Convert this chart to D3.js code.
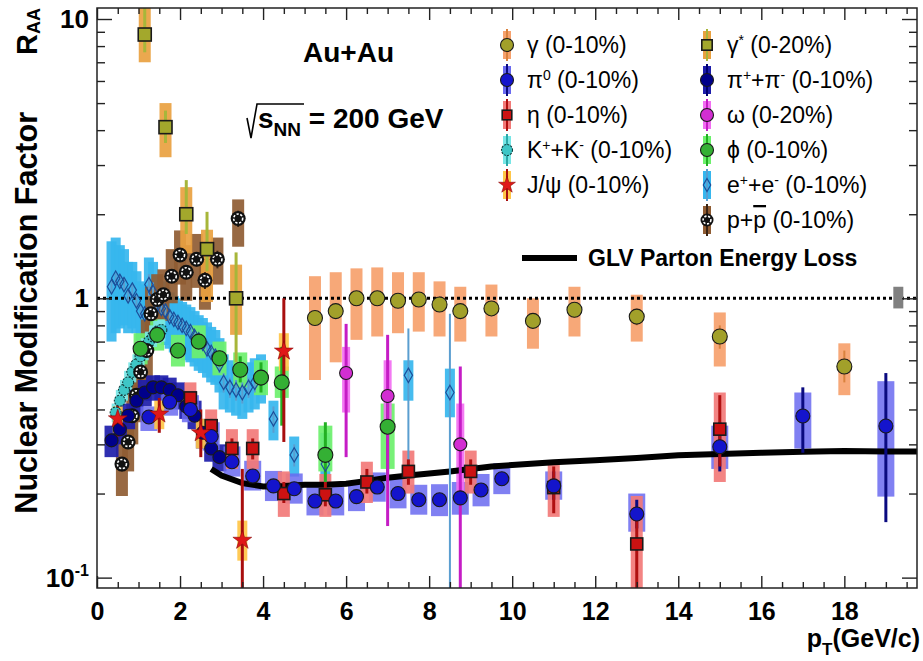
<!DOCTYPE html>
<html>
<head>
<meta charset="utf-8">
<script src="https://cdn.jsdelivr.net/npm/d3@7"></script>
<style>
  body { margin: 0; background: #fff; }
  svg { display: block; }
  text { font-family: "Liberation Sans", Arial, Helvetica, sans-serif; fill: #000; }
</style>
</head>
<body>
<svg id="chart" width="923" height="661"></svg>
<script>
// Each row: [pT, R_AA, systLow, systHigh, statLow, statHigh]
const photonDirect = [
  [5.25, 0.85, 0.51, 1.20, 0.80, 0.90],
  [5.75, 0.90, 0.59, 1.24, 0.86, 0.95],
  [6.25, 1.00, 0.71, 1.28, 0.95, 1.05],
  [6.75, 1.00, 0.73, 1.29, 0.95, 1.05],
  [7.25, 0.98, 0.75, 1.24, 0.93, 1.03],
  [7.75, 0.99, 0.76, 1.24, 0.94, 1.04],
  [8.25, 0.95, 0.73, 1.15, 0.90, 1.00],
  [8.75, 0.90, 0.70, 1.10, 0.85, 0.96],
  [9.5, 0.92, 0.73, 1.12, 0.87, 0.97],
  [10.5, 0.83, 0.66, 1.00, 0.78, 0.88],
  [11.5, 0.91, 0.73, 1.10, 0.85, 0.97],
  [13.0, 0.86, 0.70, 1.03, 0.80, 0.92],
  [15.0, 0.73, 0.57, 0.89, 0.66, 0.80],
  [18.0, 0.57, 0.45, 0.69, 0.50, 0.65]
];
const photonVirtual = [
  [1.15, 8.8, 7.0, 12.0, 7.6, 11.5],
  [1.65, 4.1, 3.2, 5.0, 3.6, 4.7],
  [2.15, 2.0, 1.45, 2.5, 1.7, 2.65],
  [2.65, 1.5, 0.97, 1.76, 1.25, 2.04],
  [3.35, 1.0, 0.74, 1.32, 0.59, 1.46]
];
const pionNeutral = [
  [1.25, 0.376, 0.335, 0.41, 0.36, 0.39],
  [1.75, 0.425, 0.38, 0.47, 0.41, 0.44],
  [2.25, 0.40, 0.36, 0.45, 0.385, 0.415],
  [2.75, 0.32, 0.285, 0.36, 0.305, 0.335],
  [3.25, 0.26, 0.23, 0.295, 0.25, 0.27],
  [3.75, 0.231, 0.205, 0.262, 0.222, 0.24],
  [4.25, 0.213, 0.188, 0.241, 0.205, 0.221],
  [4.75, 0.208, 0.184, 0.236, 0.20, 0.216],
  [5.25, 0.188, 0.167, 0.211, 0.181, 0.195],
  [5.75, 0.188, 0.167, 0.211, 0.181, 0.195],
  [6.25, 0.195, 0.173, 0.22, 0.188, 0.202],
  [6.75, 0.211, 0.187, 0.238, 0.203, 0.219],
  [7.25, 0.200, 0.177, 0.226, 0.192, 0.208],
  [7.75, 0.190, 0.168, 0.215, 0.182, 0.198],
  [8.25, 0.190, 0.166, 0.216, 0.181, 0.199],
  [8.75, 0.193, 0.168, 0.22, 0.183, 0.203],
  [9.25, 0.206, 0.18, 0.235, 0.195, 0.217],
  [9.75, 0.226, 0.199, 0.257, 0.214, 0.238],
  [11.0, 0.213, 0.19, 0.24, 0.19, 0.24],
  [13.0, 0.169, 0.146, 0.20, 0.15, 0.19],
  [15.0, 0.294, 0.245, 0.35, 0.24, 0.36],
  [17.0, 0.379, 0.29, 0.46, 0.28, 0.48],
  [19.0, 0.349, 0.195, 0.505, 0.158, 0.54]
];
const pionCharged = [
  [0.35, 0.31, 0.27, 0.35, 0.30, 0.32],
  [0.55, 0.34, 0.30, 0.38, 0.33, 0.35],
  [0.75, 0.38, 0.34, 0.42, 0.37, 0.39],
  [0.95, 0.43, 0.38, 0.47, 0.42, 0.44],
  [1.15, 0.46, 0.41, 0.51, 0.45, 0.47],
  [1.35, 0.48, 0.43, 0.53, 0.47, 0.49],
  [1.55, 0.48, 0.43, 0.53, 0.47, 0.49],
  [1.75, 0.47, 0.42, 0.52, 0.46, 0.48],
  [1.95, 0.45, 0.40, 0.50, 0.44, 0.46],
  [2.15, 0.41, 0.37, 0.46, 0.40, 0.42],
  [2.35, 0.38, 0.34, 0.43, 0.37, 0.39],
  [2.55, 0.33, 0.29, 0.37, 0.32, 0.34],
  [2.75, 0.29, 0.26, 0.33, 0.28, 0.30],
  [2.95, 0.27, 0.24, 0.30, 0.26, 0.28]
];
const etaMeson = [
  [2.25, 0.44, 0.39, 0.50, 0.42, 0.46],
  [2.75, 0.35, 0.31, 0.40, 0.33, 0.37],
  [3.25, 0.29, 0.245, 0.34, 0.265, 0.315],
  [3.75, 0.29, 0.245, 0.34, 0.265, 0.315],
  [4.5, 0.20, 0.165, 0.24, 0.185, 0.22],
  [5.5, 0.198, 0.165, 0.235, 0.18, 0.22],
  [6.5, 0.22, 0.185, 0.26, 0.20, 0.245],
  [7.5, 0.24, 0.20, 0.285, 0.215, 0.265],
  [9.0, 0.24, 0.20, 0.285, 0.215, 0.265],
  [11.0, 0.21, 0.165, 0.255, 0.17, 0.25],
  [13.0, 0.132, 0.07, 0.196, 0.07, 0.17],
  [15.0, 0.34, 0.22, 0.46, 0.25, 0.45]
];
const omegaMeson = [
  [6.0, 0.54, 0.39, 0.67, 0.27, 0.81],
  [7.0, 0.447, 0.33, 0.60, 0.153, 0.74],
  [8.75, 0.30, 0.19, 0.42, 0.05, 0.57]
];
const phiMeson = [
  [1.05, 0.66, 0.58, 0.75, 0.62, 0.70],
  [1.45, 0.74, 0.65, 0.84, 0.70, 0.78],
  [1.95, 0.65, 0.57, 0.74, 0.61, 0.69],
  [2.45, 0.70, 0.61, 0.80, 0.66, 0.74],
  [2.95, 0.61, 0.53, 0.70, 0.57, 0.65],
  [3.45, 0.555, 0.48, 0.64, 0.50, 0.62],
  [3.95, 0.52, 0.45, 0.60, 0.46, 0.59],
  [4.45, 0.50, 0.44, 0.57, 0.35, 0.67],
  [5.5, 0.275, 0.24, 0.35, 0.22, 0.36],
  [7.0, 0.347, 0.245, 0.42, 0.22, 0.46]
];
const kaonCharged = [
  [0.45, 0.39, 0.36, 0.42, 0.38, 0.40],
  [0.55, 0.43, 0.40, 0.47, 0.42, 0.44],
  [0.65, 0.47, 0.43, 0.51, 0.46, 0.48],
  [0.75, 0.50, 0.46, 0.55, 0.49, 0.51],
  [0.85, 0.545, 0.50, 0.59, 0.535, 0.555],
  [0.95, 0.58, 0.53, 0.63, 0.57, 0.59],
  [1.05, 0.62, 0.57, 0.67, 0.61, 0.63],
  [1.15, 0.66, 0.60, 0.72, 0.65, 0.67],
  [1.25, 0.70, 0.64, 0.76, 0.69, 0.71],
  [1.35, 0.73, 0.67, 0.80, 0.72, 0.74],
  [1.45, 0.76, 0.69, 0.83, 0.75, 0.77],
  [1.55, 0.77, 0.70, 0.84, 0.76, 0.78]
];
const jpsiMeson = [
  [0.5, 0.37, 0.33, 0.41, 0.32, 0.42],
  [1.5, 0.385, 0.34, 0.43, 0.33, 0.44],
  [2.5, 0.33, 0.29, 0.37, 0.27, 0.40],
  [3.5, 0.136, 0.115, 0.16, 0.05, 0.245],
  [4.5, 0.647, 0.55, 0.75, 0.306, 1.0]
];
const dielectron = [
  [0.35, 1.10, 0.70, 1.60, 1.05, 1.15],
  [0.45, 1.18, 0.75, 1.65, 1.13, 1.23],
  [0.55, 1.15, 0.78, 1.55, 1.10, 1.20],
  [0.65, 1.12, 0.80, 1.50, 1.07, 1.17],
  [0.75, 1.02, 0.75, 1.35, 0.97, 1.07],
  [0.85, 1.07, 0.78, 1.35, 1.02, 1.12],
  [0.95, 0.98, 0.75, 1.25, 0.93, 1.03],
  [1.05, 0.90, 0.70, 1.15, 0.86, 0.94],
  [1.15, 0.88, 0.67, 1.12, 0.84, 0.92],
  [1.25, 1.12, 0.85, 1.40, 1.02, 1.22],
  [1.35, 1.05, 0.80, 1.35, 0.96, 1.14],
  [1.45, 0.95, 0.72, 1.20, 0.90, 1.00],
  [1.55, 0.92, 0.70, 1.15, 0.88, 0.96],
  [1.65, 0.90, 0.68, 1.10, 0.86, 0.94],
  [1.75, 0.86, 0.66, 1.05, 0.82, 0.90],
  [1.85, 0.84, 0.64, 1.02, 0.80, 0.88],
  [1.95, 0.82, 0.63, 1.00, 0.78, 0.86],
  [2.05, 0.80, 0.62, 0.97, 0.76, 0.84],
  [2.15, 0.78, 0.60, 0.95, 0.74, 0.82],
  [2.25, 0.76, 0.59, 0.93, 0.72, 0.80],
  [2.35, 0.73, 0.57, 0.90, 0.69, 0.77],
  [2.45, 0.71, 0.55, 0.87, 0.67, 0.75],
  [2.55, 0.69, 0.54, 0.85, 0.65, 0.73],
  [2.65, 0.66, 0.52, 0.82, 0.62, 0.70],
  [2.75, 0.64, 0.50, 0.79, 0.60, 0.68],
  [2.85, 0.62, 0.49, 0.77, 0.58, 0.66],
  [2.95, 0.58, 0.46, 0.72, 0.54, 0.62],
  [3.05, 0.50, 0.40, 0.63, 0.46, 0.54],
  [3.2, 0.48, 0.39, 0.60, 0.44, 0.52],
  [3.35, 0.47, 0.38, 0.58, 0.43, 0.51],
  [3.5, 0.46, 0.37, 0.57, 0.42, 0.50],
  [3.65, 0.48, 0.39, 0.59, 0.44, 0.52],
  [3.8, 0.50, 0.40, 0.61, 0.46, 0.54],
  [3.95, 0.52, 0.42, 0.63, 0.47, 0.57],
  [4.25, 0.37, 0.31, 0.43, 0.33, 0.41],
  [4.75, 0.275, 0.23, 0.32, 0.25, 0.30],
  [5.5, 0.255, 0.20, 0.33, 0.22, 0.29],
  [7.5, 0.53, 0.43, 0.60, 0.225, 0.78],
  [8.5, 0.46, 0.375, 0.56, 0.05, 0.88]
];
const protonPair = [
  [0.6, 0.255, 0.196, 0.35, 0.24, 0.27],
  [0.75, 0.306, 0.24, 0.40, 0.29, 0.32],
  [0.85, 0.38, 0.30, 0.49, 0.36, 0.40],
  [0.95, 0.45, 0.36, 0.58, 0.43, 0.47],
  [1.05, 0.545, 0.43, 0.70, 0.52, 0.57],
  [1.2, 0.65, 0.51, 0.84, 0.62, 0.68],
  [1.3, 0.88, 0.70, 1.10, 0.84, 0.92],
  [1.45, 0.99, 0.80, 1.22, 0.95, 1.03],
  [1.6, 1.03, 0.83, 1.27, 0.98, 1.08],
  [1.8, 1.20, 0.96, 1.50, 1.14, 1.26],
  [2.0, 1.43, 1.12, 1.75, 1.36, 1.50],
  [2.15, 1.24, 0.98, 1.55, 1.17, 1.31],
  [2.4, 1.38, 1.09, 1.70, 1.30, 1.46],
  [2.6, 1.16, 0.91, 1.44, 1.08, 1.24],
  [2.9, 1.38, 1.12, 1.65, 1.28, 1.48],
  [3.4, 1.93, 1.53, 2.26, 1.80, 2.06]
];
// GLV parton energy-loss curve: [pT, R_AA]
const glvCurve = [
  [2.75, 0.245], [3.0, 0.232], [3.5, 0.218], [4.0, 0.212], [4.5, 0.213],
  [5.0, 0.215], [5.5, 0.215], [6.0, 0.217], [6.5, 0.222], [7.0, 0.228],
  [7.5, 0.232], [8.0, 0.236], [8.5, 0.240], [9.0, 0.245], [9.5, 0.250],
  [10.0, 0.253], [11.0, 0.259], [12.0, 0.263], [13.0, 0.268], [14.0, 0.274],
  [15.0, 0.277], [16.0, 0.280], [17.0, 0.282], [18.0, 0.284], [19.0, 0.283],
  [19.75, 0.283]
];
// global normalisation uncertainty at unity: [pT, low, high]
const normBox = [19.3, 0.92, 1.10];

const xTickValues = [0, 2, 4, 6, 8, 10, 12, 14, 16, 18];
const yMajorTicks = [0.1, 1, 10];
const yMinorTicks = [0.2, 0.3, 0.4, 0.5, 0.6, 0.7, 0.8, 0.9, 2, 3, 4, 5, 6, 7, 8, 9];

// ---------------------------------------------------------------------------
const styles = {
  photonDirect:  { box: "#f6a16d", boxW: 12, stat: "#d9823e", statW: 2, shape: "circle", fill: "#a2a02a", size: 7.5 },
  photonVirtual: { box: "#e9a140", boxW: 12, stat: "#a7b63a", statW: 3, shape: "square", fill: "#a3a82c", size: 13 },
  pionCharged:   { box: "#1d1daa", boxW: 14, stat: "#000070", statW: 2, shape: "circle", fill: "#00008a", size: 6.5 },
  pionNeutral:   { box: "#6a6af0", boxW: 17, stat: "#0a0a80", statW: 3, shape: "circle", fill: "#1414cc", size: 7 },
  etaMeson:      { box: "#f27a78", boxW: 12, stat: "#b01010", statW: 3, shape: "square", fill: "#cc1212", size: 12 },
  omegaMeson:    { box: "#f26ef2", boxW: 8, stat: "#c51cc5", statW: 3, shape: "circle", fill: "#d22ed2", size: 6.5 },
  phiMeson:      { box: "#6cf06c", boxW: 14, stat: "#22b022", statW: 3, shape: "circle", fill: "#34b034", size: 7.5 },
  kaonCharged:   { box: "#78e6e6", boxW: 8, stat: "#2aa8a8", statW: 2, shape: "kaon", fill: "#3ec6c6", size: 5.5 },
  jpsiMeson:     { box: "#ffc648", boxW: 10, stat: "#a80e0e", statW: 3, shape: "star", fill: "#e01818", size: 110 },
  dielectron:    { box: "#36b6ee", boxW: 10, stat: "#5a9ed0", statW: 2, shape: "diamond", fill: "none", size: 60 },
  protonPair:    { box: "#8f5c33", boxW: 12, stat: "#3a2414", statW: 2, shape: "pbar", fill: "#111", size: 7.5 }
};
const seriesData = {
  photonDirect, photonVirtual, pionCharged, pionNeutral, etaMeson, omegaMeson,
  phiMeson, kaonCharged, jpsiMeson, dielectron, protonPair
};

const plot = { left: 97, right: 917, top: 8, bottom: 588 };
const svg = d3.select("#chart");
const x = d3.scaleLinear().domain([0, 19.75]).range([plot.left, plot.right]);
const y = d3.scaleLog().domain([0.0918, 10.95]).range([plot.bottom, plot.top]);

svg.append("defs").append("clipPath").attr("id", "plotClip")
  .append("rect").attr("x", plot.left).attr("y", plot.top)
  .attr("width", plot.right - plot.left).attr("height", plot.bottom - plot.top);

const data = svg.append("g").attr("clip-path", "url(#plotClip)");
const gBoxes = data.append("g");
const gRef = data.append("g");
const gStat = data.append("g");
const gMarks = data.append("g");

// systematic boxes
const boxOrder = ["dielectron", "protonPair", "photonVirtual", "photonDirect", "phiMeson",
  "kaonCharged", "pionCharged", "pionNeutral", "etaMeson", "omegaMeson", "jpsiMeson"];
boxOrder.forEach(key => {
  const s = styles[key];
  gBoxes.append("g").selectAll("rect").data(seriesData[key]).join("rect")
    .attr("x", d => x(d[0]) - s.boxW / 2)
    .attr("width", s.boxW)
    .attr("y", d => y(d[3]))
    .attr("height", d => y(d[2]) - y(d[3]))
    .attr("fill", s.box)
    .attr("fill-opacity", key === "pionNeutral" ? 0.85 : 0.92);
});

// unity reference line, normalisation box and the GLV curve
gRef.append("line")
  .attr("x1", plot.left).attr("x2", plot.right)
  .attr("y1", y(1)).attr("y2", y(1))
  .attr("stroke", "#000").attr("stroke-width", 3).attr("stroke-dasharray", "3,3");
gRef.append("rect")
  .attr("x", x(normBox[0]) - 5).attr("width", 10)
  .attr("y", y(normBox[2])).attr("height", y(normBox[1]) - y(normBox[2]))
  .attr("fill", "#808080");
gRef.append("path")
  .datum(glvCurve)
  .attr("d", d3.line().x(d => x(d[0])).y(d => y(d[1])))
  .attr("fill", "none").attr("stroke", "#000").attr("stroke-width", 6);

// statistical error bars
boxOrder.forEach(key => {
  const s = styles[key];
  gStat.append("g").selectAll("line").data(seriesData[key]).join("line")
    .attr("x1", d => x(d[0])).attr("x2", d => x(d[0]))
    .attr("y1", d => y(d[5])).attr("y2", d => y(d[4]))
    .attr("stroke", s.stat).attr("stroke-width", s.statW);
});

// marker drawing
function drawMarker(g, shape, s) {
  if (shape === "circle") {
    g.append("circle").attr("r", s.size).attr("fill", s.fill)
      .attr("stroke", "#1a1a1a").attr("stroke-width", 1.1);
  } else if (shape === "square") {
    g.append("rect").attr("x", -s.size / 2).attr("y", -s.size / 2)
      .attr("width", s.size).attr("height", s.size).attr("fill", s.fill)
      .attr("stroke", "#1a1a1a").attr("stroke-width", 1.6);
  } else if (shape === "kaon") {
    g.append("circle").attr("r", s.size).attr("fill", s.fill)
      .attr("stroke", "#123c3c").attr("stroke-width", 1.1).attr("stroke-dasharray", "2,1.2");
  } else if (shape === "star") {
    g.append("path").attr("d", d3.symbol(d3.symbolStar, s.size)())
      .attr("fill", s.fill).attr("stroke", "#8a0a0a").attr("stroke-width", 0.6);
  } else if (shape === "diamond") {
    g.append("path").attr("d", d3.symbol(d3.symbolDiamond, s.size)())
      .attr("fill", "none").attr("stroke", "#1c4f9a").attr("stroke-width", 1.2);
  } else if (shape === "pbar") {
    g.append("circle").attr("r", s.size).attr("fill", s.fill);
    g.append("circle").attr("r", s.size * 0.6).attr("fill", "none")
      .attr("stroke", "#fff").attr("stroke-width", 1.6).attr("stroke-dasharray", "2.2,1.6");
  }
}

const markOrder = ["dielectron", "kaonCharged", "protonPair", "phiMeson", "photonVirtual",
  "photonDirect", "pionCharged", "etaMeson", "pionNeutral", "omegaMeson", "jpsiMeson"];
markOrder.forEach(key => {
  const s = styles[key];
  gMarks.append("g").selectAll("g").data(seriesData[key]).join("g")
    .attr("transform", d => `translate(${x(d[0])},${y(d[1])})`)
    .each(function () { drawMarker(d3.select(this), s.shape, s); });
});

// ---------------------------------------------------------------------------
// axes (ticks pointing into the frame)
const xMinorTicks = d3.range(0, 19.75, 0.5).filter(v => v % 2 !== 0);
function styleAxis(g) {
  g.select(".domain").remove();
  g.selectAll(".tick line").attr("stroke", "#222").attr("stroke-width", 1.4);
}
svg.append("g").attr("transform", `translate(0,${plot.bottom})`)
  .call(d3.axisBottom(x).tickValues(xTickValues).tickSize(-12).tickSizeOuter(0).tickPadding(14).tickFormat(d3.format("d")))
  .call(styleAxis)
  .call(g => g.selectAll("text").attr("font-size", 25).attr("font-weight", "bold")
    .attr("font-family", "'Liberation Sans', Arial, sans-serif").attr("fill", "#000"));
svg.append("g").attr("transform", `translate(0,${plot.bottom})`)
  .call(d3.axisBottom(x).tickValues(xMinorTicks).tickSize(-6).tickSizeOuter(0).tickFormat(""))
  .call(styleAxis);
svg.append("g").attr("transform", `translate(0,${plot.top})`)
  .call(d3.axisTop(x).tickValues(xTickValues).tickSize(-12).tickSizeOuter(0).tickFormat(""))
  .call(styleAxis);
svg.append("g").attr("transform", `translate(0,${plot.top})`)
  .call(d3.axisTop(x).tickValues(xMinorTicks).tickSize(-6).tickSizeOuter(0).tickFormat(""))
  .call(styleAxis);
[[d3.axisLeft, plot.left], [d3.axisRight, plot.right]].forEach(([axisFn, px]) => {
  svg.append("g").attr("transform", `translate(${px},0)`)
    .call(axisFn(y).tickValues(yMajorTicks).tickSize(-15).tickSizeOuter(0).tickFormat(""))
    .call(styleAxis);
  svg.append("g").attr("transform", `translate(${px},0)`)
    .call(axisFn(y).tickValues(yMinorTicks).tickSize(-8).tickSizeOuter(0).tickFormat(""))
    .call(styleAxis);
});

// frame
svg.append("rect")
  .attr("x", plot.left).attr("y", plot.top)
  .attr("width", plot.right - plot.left).attr("height", plot.bottom - plot.top)
  .attr("fill", "none").attr("stroke", "#222").attr("stroke-width", 1.5);

// y tick labels as powers of ten
const yLab = svg.append("g").attr("font-size", 26).attr("font-weight", "bold");
yMajorTicks.forEach(v => {
  const t = yLab.append("text").attr("x", 89).attr("y", y(v) + 9).attr("text-anchor", "end");
  const exp = Math.round(Math.log10(v));
  if (exp === 0) t.text("1");
  else if (exp === 1) t.text("10");
  else {
    t.append("tspan").text("10");
    t.append("tspan").attr("font-size", 16).attr("dy", -11).text(String(exp));
  }
});

// axis titles
const yTitle = svg.append("g").attr("font-weight", "bold");
yTitle.append("text")
  .attr("transform", "translate(37,112) rotate(-90)")
  .attr("text-anchor", "end").attr("font-size", 30.5)
  .text("Nuclear Modification Factor");
const raa = yTitle.append("text")
  .attr("transform", "translate(37,8) rotate(-90)")
  .attr("text-anchor", "end").attr("font-size", 29);
raa.append("tspan").text("R");
raa.append("tspan").attr("font-size", 18).attr("dy", 3).text("AA");

const xTitle = svg.append("text").attr("x", 920).attr("y", 647)
  .attr("text-anchor", "end").attr("font-weight", "bold").attr("font-size", 25);
xTitle.append("tspan").text("p");
xTitle.append("tspan").attr("font-size", 17).attr("dy", 8).text("T");
xTitle.append("tspan").attr("dy", -8).text("(GeV/c)");

// collision system annotation
svg.append("text").attr("x", 303).attr("y", 62)
  .attr("font-weight", "bold").attr("font-size", 28).text("Au+Au");
svg.append("path")
  .attr("d", "M247,118 L251,138 L257,104 L304,104")
  .attr("fill", "none").attr("stroke", "#000").attr("stroke-width", 1.6);
const energy = svg.append("text").attr("x", 258).attr("y", 128)
  .attr("font-weight", "bold").attr("font-size", 28);
energy.append("tspan").text("s");
energy.append("tspan").attr("font-size", 19).attr("dy", 8).text("NN");
energy.append("tspan").attr("dy", -8).text(" = 200 GeV");

// ---------------------------------------------------------------------------
// legend
const legendLeft = [
  ["photonDirect", [["γ (0-10%)"]]],
  ["pionNeutral", [["π"], ["0", "sup"], [" (0-10%)"]]],
  ["etaMeson", [["η (0-10%)"]]],
  ["kaonCharged", [["K"], ["+", "sup"], ["+K"], ["-", "sup"], [" (0-10%)"]]],
  ["jpsiMeson", [["J/ψ (0-10%)"]]]
];
const legendRight = [
  ["photonVirtual", [["γ"], ["*", "sup"], [" (0-20%)"]]],
  ["pionCharged", [["π"], ["+", "sup"], ["+π"], ["-", "sup"], [" (0-10%)"]]],
  ["omegaMeson", [["ω (0-20%)"]]],
  ["phiMeson", [["ϕ (0-10%)"]]],
  ["dielectron", [["e"], ["+", "sup"], ["+e"], ["-", "sup"], [" (0-10%)"]]],
  ["protonPair", [["p+"], ["p", "bar"], [" (0-10%)"]]]
];
const legend = svg.append("g");
function drawLegendColumn(entries, mx, tx) {
  entries.forEach(([key, parts], i) => {
    const s = styles[key];
    const cy = 45 + i * 35;
    const row = legend.append("g");
    row.append("rect").attr("x", mx - 4).attr("width", 8).attr("y", cy - 14).attr("height", 28)
      .attr("fill", s.box);
    row.append("line").attr("x1", mx).attr("x2", mx).attr("y1", cy - 16).attr("y2", cy + 16)
      .attr("stroke", s.stat).attr("stroke-width", 2);
    const mk = row.append("g").attr("transform", `translate(${mx},${cy})`);
    const small = Object.assign({}, s, {
      size: s.shape === "star" || s.shape === "diamond" ? s.size * 0.8
        : s.shape === "square" ? s.size * 0.8 : Math.min(s.size, 6.5)
    });
    drawMarker(mk, s.shape, small);
    const t = row.append("text").attr("x", tx).attr("y", cy + 8).attr("font-size", 23);
    parts.forEach(([str, kind]) => {
      const sp = t.append("tspan").text(str);
      if (kind === "sup") sp.attr("font-size", 14).attr("baseline-shift", "55%");
      if (kind === "bar") sp.style("text-decoration", "overline");
    });
  });
}
drawLegendColumn(legendLeft, 507, 527);
drawLegendColumn(legendRight, 707, 727);
legend.append("line").attr("x1", 522).attr("x2", 577).attr("y1", 258).attr("y2", 258)
  .attr("stroke", "#000").attr("stroke-width", 6);
legend.append("text").attr("x", 588).attr("y", 266)
  .attr("font-weight", "bold").attr("font-size", 23).text("GLV Parton Energy Loss");
</script>
</body>
</html>
